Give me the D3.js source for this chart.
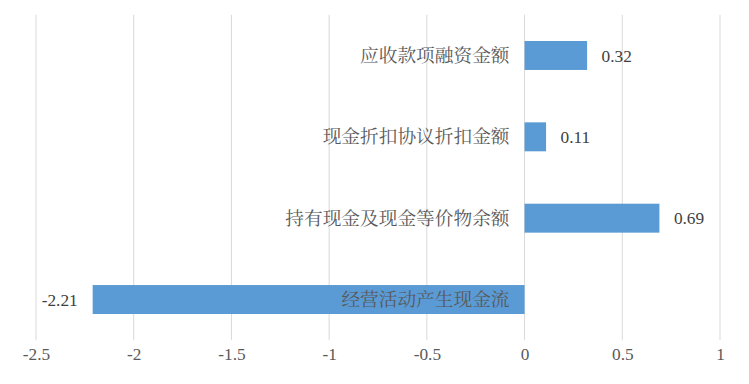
<!DOCTYPE html>
<html><head><meta charset="utf-8">
<script src="https://cdn.jsdelivr.net/npm/d3@7"></script>
<style>body{margin:0;background:#fff}</style>
</head><body>
<svg id="c" width="749" height="384"></svg>
<script>
const categories = ["应收款项融资金额", "现金折扣协议折扣金额", "持有现金及现金等价物余额", "经营活动产生现金流"];
const values = [0.32, 0.11, 0.69, -2.21];
const valueLabels = ["0.32", "0.11", "0.69", "-2.21"];
const ticks = [-2.5, -2, -1.5, -1, -0.5, 0, 0.5, 1];
const tickLabels = ["-2.5", "-2", "-1.5", "-1", "-0.5", "0", "0.5", "1"];

const numStyle = "font-family:'Liberation Serif';font-size:17.3px";
const catStyle = "font-family:'Noto Serif CJK SC';font-size:18.7px";

const svg = d3.select("#c");
const x = d3.scaleLinear().domain([-2.5, 1]).range([36, 720]);
const y = d3.scaleBand().domain(categories).range([14.8, 340.2]).paddingInner(0.644).paddingOuter(0.322);

// gridlines
svg.append("g").selectAll("line").data(ticks).join("line")
  .attr("x1", d => x(d)).attr("x2", d => x(d))
  .attr("y1", 14.8).attr("y2", 340.2)
  .attr("stroke", "#D9D9D9").attr("stroke-width", 1);

// axis tick labels
const ax = svg.append("g").attr("transform", "translate(0,340.2)")
  .call(d3.axisBottom(x).tickValues(ticks).tickFormat((d, i) => tickLabels[i]).tickSize(0).tickPadding(8));
ax.attr("font-family", null).attr("font-size", null);
ax.select(".domain").remove();
ax.selectAll("text").attr("style", numStyle).attr("fill", "#595959");

// bars
svg.append("g").selectAll("rect").data(values).join("rect")
  .attr("x", d => x(Math.min(0, d)))
  .attr("width", d => Math.abs(x(d) - x(0)))
  .attr("y", (d, i) => y(categories[i]))
  .attr("height", y.bandwidth())
  .attr("fill", "#5B9BD5");

// category labels
svg.append("g").selectAll("text").data(categories).join("text")
  .attr("x", x(0) - 15)
  .attr("y", d => y(d) + y.bandwidth() / 2)
  .attr("dy", "0.35em")
  .attr("text-anchor", "end")
  .attr("style", catStyle)
  .attr("fill", "#595959")
  .text(d => d);

// value labels
svg.append("g").selectAll("text").data(values).join("text")
  .attr("x", d => d >= 0 ? x(d) + 14.5 : x(d) - 15)
  .attr("y", (d, i) => y(categories[i]) + y.bandwidth() / 2)
  .attr("dy", "0.35em")
  .attr("text-anchor", d => d >= 0 ? "start" : "end")
  .attr("style", numStyle)
  .attr("fill", "#404040")
  .text((d, i) => valueLabels[i]);
</script>
</body></html>
